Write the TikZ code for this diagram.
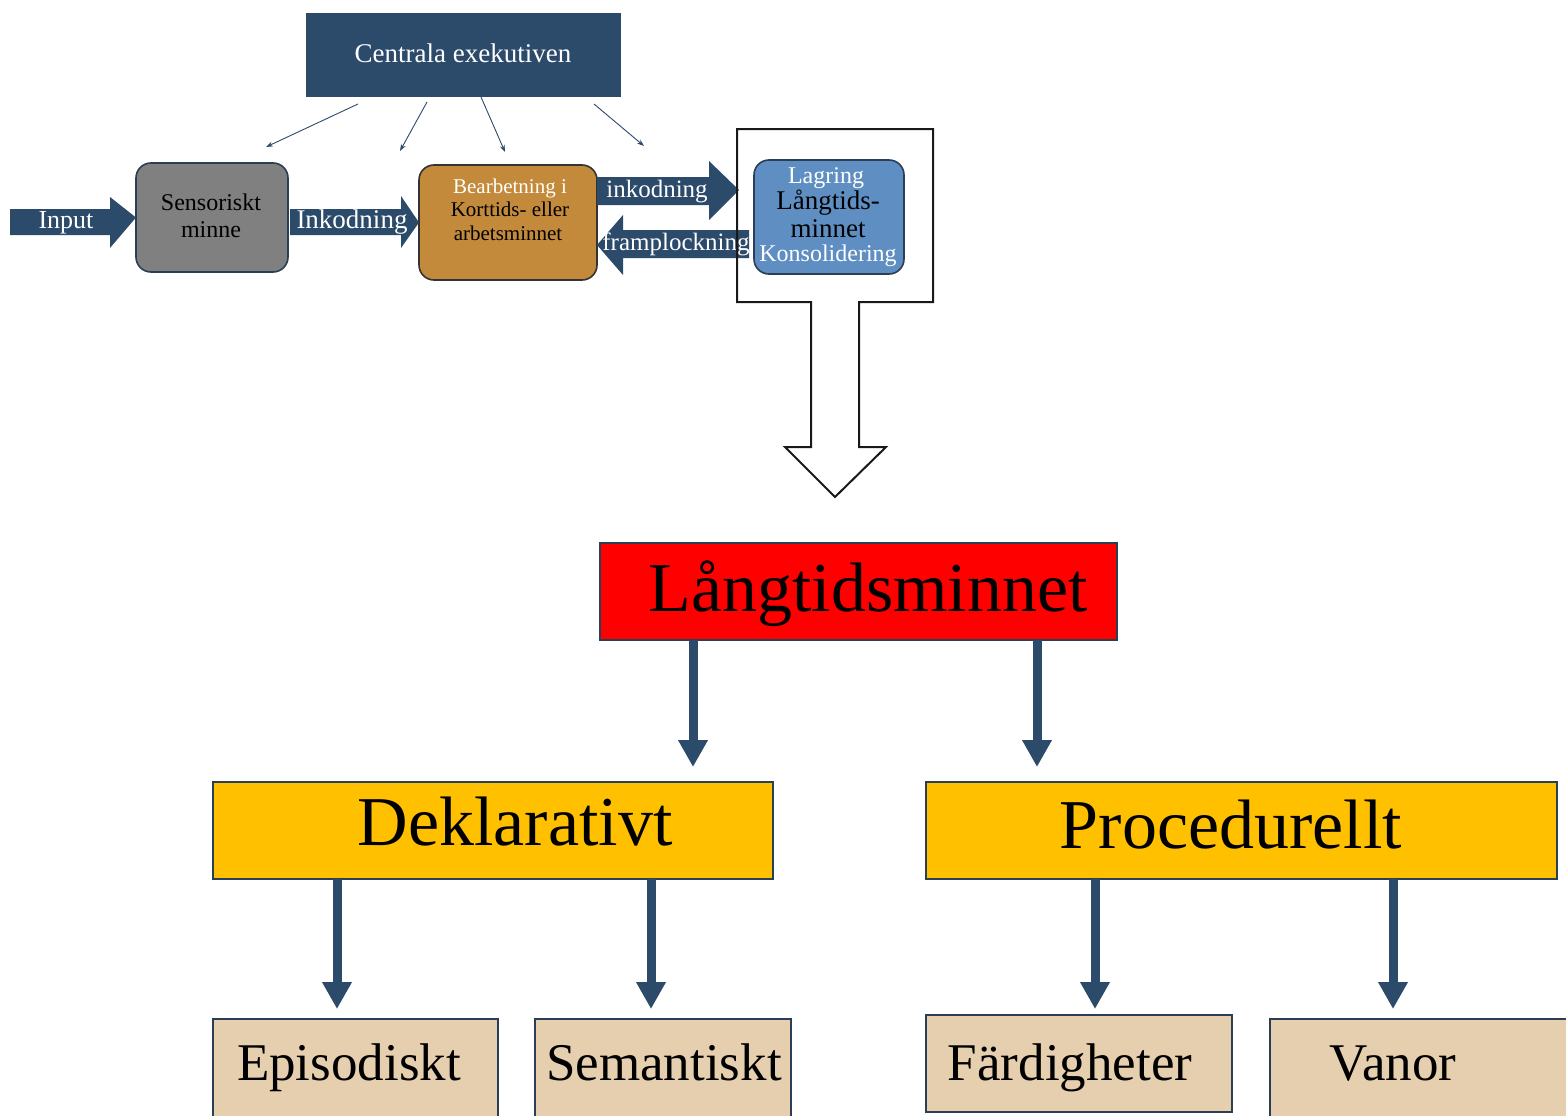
\documentclass[tikz,border=0pt]{standalone}
\usepackage{fontspec}
\setmainfont{Liberation Serif}
\usetikzlibrary{arrows.meta}
\definecolor{navy}{HTML}{2C4A6A}
\definecolor{edge}{HTML}{2A3E55}
\definecolor{sensgray}{HTML}{808080}
\definecolor{workbrown}{HTML}{C38A3B}
\definecolor{storeblue}{HTML}{5F8FC2}
\definecolor{ltmred}{HTML}{FF0000}
\definecolor{gold}{HTML}{FFC000}
\definecolor{tan}{HTML}{E6CFAE}
\newcommand{\fsz}[1]{\fontsize{#1}{#1}\selectfont}
\begin{document}
\begin{tikzpicture}[x=1pt,y=-1pt,
  box/.style={draw=edge,line width=1.6pt,inner sep=0pt,outer sep=0pt,anchor=north west},
  roundbox/.style={box,rounded corners=15pt},
  blockarrow/.style={fill=navy,draw=none},
  thinarrow/.style={draw=navy,line width=0.9pt,-{Stealth[length=7pt,width=5pt]}},
  thickarrow/.style={draw=navy,line width=9pt,-{Triangle[length=27pt,width=28pt]}},
  txt/.style={anchor=base,inner sep=0pt},
]
\useasboundingbox (0,0) rectangle (1566,1116);

% ---------- working-memory model ----------
\node[box,fill=navy,draw=navy,minimum width=313pt,minimum height=82pt] (ce) at (307,14) {};
\node[txt,text=white,font=\fsz{27}] (cetxt) at (463,63) {Centrala exekutiven};

\coordinate (e1) at (266,147);
\coordinate (e2) at (400,151);
\coordinate (e3) at (505,152);
\coordinate (e4) at (644,146);
\draw[thinarrow] (ce.south -| 358,0) ++(0,8) -- (e1);
\draw[thinarrow] (ce.south -| 427,0) ++(0,6) -- (e2);
\draw[thinarrow] (ce.south -| 481,0) ++(0,1) -- (e3);
\draw[thinarrow] (ce.south -| 594,0) ++(0,8) -- (e4);

\node[roundbox,fill=sensgray,minimum width=152pt,minimum height=109pt] (sens) at (136,163) {};
\node[roundbox,fill=workbrown,draw=black!80,minimum width=178pt,minimum height=115pt] (work) at (419,165) {};

% block arrows
\path[blockarrow] (10,209) -- (110,209) -- (110,197) -- (sens.west) -- (110,248) -- (110,235) -- (10,235) -- cycle;
\path[blockarrow] (290,209) -- (401,209) -- (401,196) -- (work.west) -- (401,248) -- (401,235) -- (290,235) -- cycle;
\path[blockarrow] (work.east |- 0,177) -- (709,177) -- (709,161) -- (739,190) -- (709,220) -- (709,205) -- (work.east |- 0,205) -- cycle;
\path[blockarrow] (work.east |- 0,245) -- (623,215) -- (623,230) -- (749,230) -- (749,258) -- (623,258) -- (623,275) -- cycle;

\node[txt,text=white,font=\fsz{26}] (tin) at (66,228) {Input};
\node[txt,text=white,font=\fsz{27}] (tink) at (352,228) {Inkodning};
\node[txt,text=white,font=\fsz{25}] (tenc) at (657,197) {inkodning};
\node[txt,text=white,font=\fsz{25}] (tret) at (676,250) {framplockning};

\node[txt,font=\fsz{24}] (s1) at (211,210) {Sensoriskt};
\node[txt,font=\fsz{24}] (s2) at (211,237) {minne};
\node[txt,text=white,font=\fsz{21}] (w1) at (510,193) {Bearbetning i};
\node[txt,font=\fsz{21}] (w2) at (510,216) {Korttids- eller};
\node[txt,font=\fsz{21}] (w3) at (508,240) {arbetsminnet};

% long-term store with its hollow down arrow
\draw[black!90,line width=2pt,line join=miter]
  (737,129) -- (933,129) -- (933,302) -- (859,302) -- (859,447) -- (886,447)
  -- (835,497) coordinate (ltip) -- (785,447) -- (811,447) -- (811,302) -- (737,302) -- cycle;
\node[roundbox,fill=storeblue,minimum width=150pt,minimum height=114pt] (store) at (754,160) {};
\node[txt,text=white,font=\fsz{24}] (l1) at (826,183) {Lagring};
\node[txt,font=\fsz{27}] (l2) at (828,209) {Långtids-};
\node[txt,font=\fsz{27}] (l3) at (828,237) {minnet};
\node[txt,text=white,font=\fsz{24}] (l4) at (828,261) {Konsolidering};

% ---------- long-term memory hierarchy ----------
\node[box,fill=ltmred,minimum width=517pt,minimum height=97pt] (ltm) at (600,543) {};
\node[txt,font=\fsz{70}] (ltmtxt) at (868,611) {Långtidsminnet};

\node[box,fill=gold,minimum width=560pt,minimum height=97pt] (dek) at (213,782) {};
\node[txt,font=\fsz{70}] (dektxt) at (515,845) {Deklarativt};
\node[box,fill=gold,minimum width=631pt,minimum height=97pt] (proc) at (926,782) {};
\node[txt,font=\fsz{70}] (proctxt) at (1231,848) {Procedurellt};

\node[box,fill=tan,minimum width=285pt,minimum height=110pt] (epi) at (213,1019) {};
\node[txt,font=\fsz{53}] (epitxt) at (349,1080) {Episodiskt};
\node[box,fill=tan,minimum width=256pt,minimum height=110pt] (sem) at (535,1019) {};
\node[txt,font=\fsz{53}] (semtxt) at (664,1080) {Semantiskt};
\node[box,fill=tan,minimum width=306pt,minimum height=97pt] (fard) at (926,1015) {};
\node[txt,font=\fsz{53}] (fardtxt) at (1070,1080) {Färdigheter};
\node[box,fill=tan,minimum width=310pt,minimum height=110pt] (van) at (1270,1019) {};
\node[txt,font=\fsz{53}] (vantxt) at (1393,1080) {Vanor};

\draw[thickarrow,shorten >=15pt] (ltm.south -| 693,0) -- (dek.north -| 693,0);
\draw[thickarrow,shorten >=15pt] (ltm.south -| 1037,0) -- (proc.north -| 1037,0);
\draw[thickarrow,shorten >=10pt] (dek.south -| 337,0) -- (epi.north -| 337,0);
\draw[thickarrow,shorten >=10pt] (dek.south -| 651,0) -- (sem.north -| 651,0);
\draw[thickarrow,shorten >=6pt] (proc.south -| 1095,0) -- (fard.north -| 1095,0);
\draw[thickarrow,shorten >=10pt] (proc.south -| 1393,0) -- (van.north -| 1393,0);
\end{tikzpicture}
\end{document}
